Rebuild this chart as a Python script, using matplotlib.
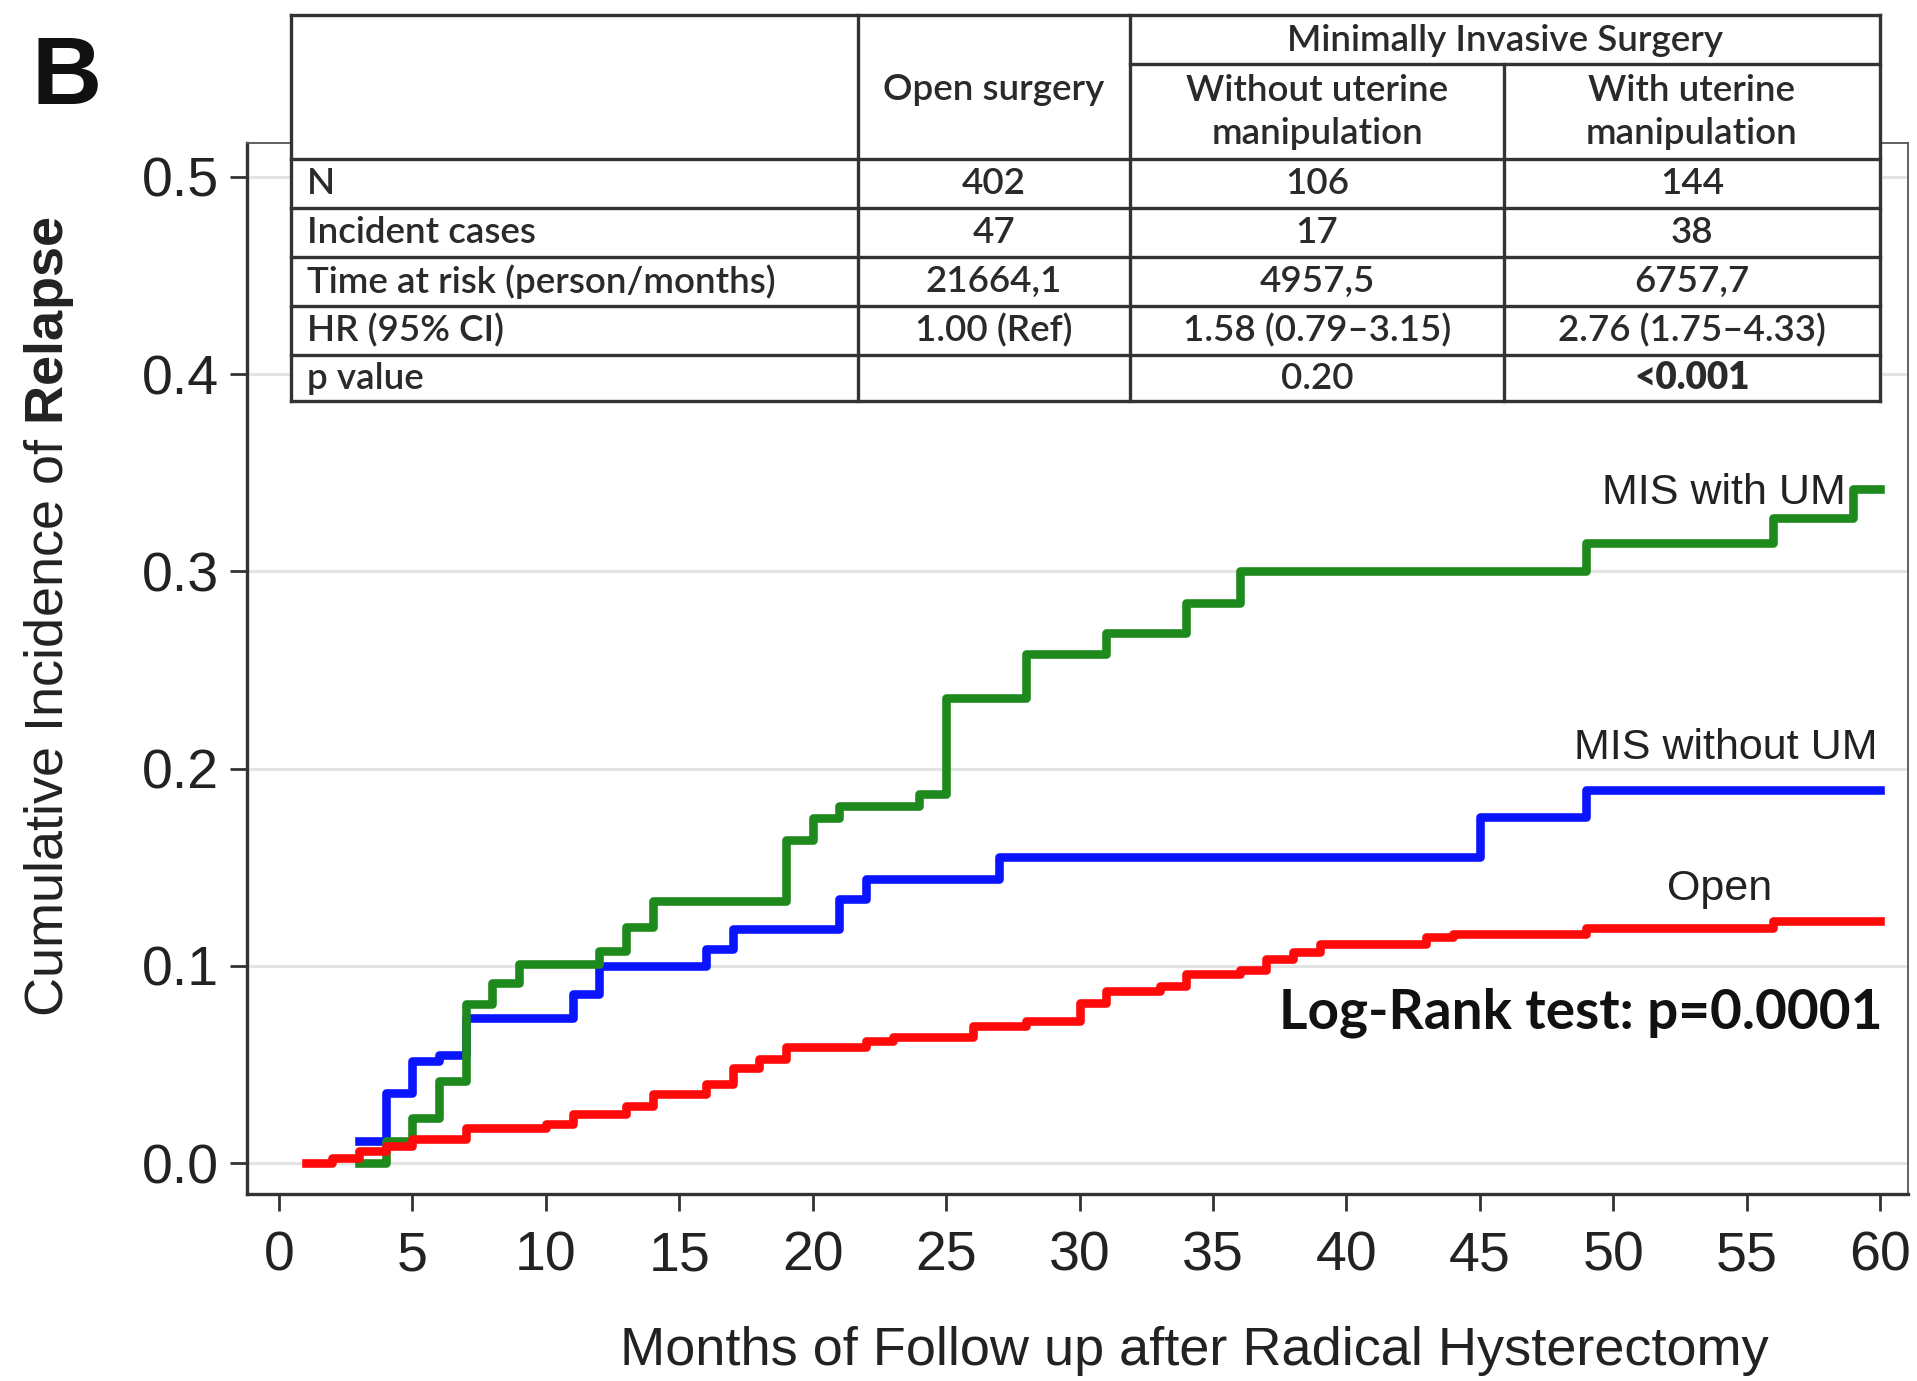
import matplotlib
matplotlib.use('Agg')
import matplotlib.pyplot as plt
from matplotlib.patches import Rectangle

plt.rcParams['font.family'] = ['Liberation Sans', 'DejaVu Sans']
plt.rcParams['mathtext.fontset'] = 'custom'
plt.rcParams['mathtext.rm'] = 'Liberation Sans'
plt.rcParams['mathtext.bf'] = 'Liberation Sans:bold'

# cumulative incidence step curves (month, value)
open_t = [1, 2, 3, 4, 5, 7, 10, 11, 13, 14, 16, 17, 18, 19, 22, 23, 26, 28, 30, 31,
          33, 34, 36, 37, 38, 39, 43, 44, 49, 56, 60]
open_y = [0.0, 0.0025, 0.006, 0.0085, 0.012, 0.018, 0.02, 0.025, 0.029, 0.035, 0.04,
          0.048, 0.053, 0.059, 0.062, 0.064, 0.0695, 0.072, 0.081, 0.087, 0.09, 0.0958,
          0.098, 0.1035, 0.107, 0.111, 0.1145, 0.1163, 0.119, 0.1226, 0.1226]

mis_no_um_t = [3, 4, 5, 6, 7, 11, 12, 16, 17, 21, 22, 27, 45, 49, 60]
mis_no_um_y = [0.011, 0.0356, 0.0517, 0.055, 0.0737, 0.0856, 0.1, 0.1085, 0.1186,
               0.134, 0.144, 0.155, 0.1755, 0.189, 0.189]

mis_um_t = [3, 4, 5, 6, 7, 8, 9, 12, 13, 14, 19, 20, 21, 24, 25, 28, 31, 34, 36, 49,
            56, 59, 60]
mis_um_y = [0.0, 0.011, 0.023, 0.0415, 0.0805, 0.0915, 0.1008, 0.1076, 0.1195, 0.133,
            0.164, 0.175, 0.181, 0.187, 0.2356, 0.258, 0.269, 0.284, 0.30, 0.3145,
            0.327, 0.342, 0.342]

# table contents
row_labels = ['N', 'Incident cases', 'Time at risk (person/months)', 'HR (95% CI)', 'p value']
open_vals = ['402', '47', '21664,1', '1.00 (Ref)', '']
no_um_vals = ['106', '17', '4957,5', '1.58 (0.79\u20133.15)', '0.20']
um_vals = ['144', '38', '6757,7', '2.76 (1.75\u20134.33)', '<0.001']

W, H = 1917, 1381
fig = plt.figure(figsize=(W / 100, H / 100), dpi=100)

ax = fig.add_axes([247 / W, 1 - 1194 / H, (1908 - 247) / W, (1194 - 143) / H])
ax.set_xlim(-1.2, 61.05)
ax.set_ylim(-0.0157, 0.5172)

lw = 6.2
ax.step(mis_no_um_t, mis_no_um_y, where='post', color='#0a14ff', lw=lw, zorder=3)
ax.step(mis_um_t, mis_um_y, where='post', color='#1e8a1e', lw=lw, zorder=4)
ax.step(open_t, open_y, where='post', color='#ff0a0a', lw=lw, zorder=5)

ax.set_xticks(range(0, 61, 5))
ax.set_yticks([0.0, 0.1, 0.2, 0.3, 0.4, 0.5])
ax.set_yticklabels(['0.0', '0.1', '0.2', '0.3', '0.4', '0.5'])
ax.yaxis.grid(True, color='#e4e4e4', lw=2.2, zorder=0)
ax.set_axisbelow(True)
ax.tick_params(axis='both', labelsize=40, length=12, width=2, color='#333333',
               labelcolor='#222222')
ax.tick_params(axis='x', pad=14)
ax.tick_params(axis='y', pad=8)
for s in ['left', 'bottom']:
    ax.spines[s].set_linewidth(2.4)
    ax.spines[s].set_color('#333333')
for s in ['top', 'right']:
    ax.spines[s].set_linewidth(1.3)
    ax.spines[s].set_color('#555555')

ax.text(58.7, 0.3397, 'MIS with UM', fontsize=31, ha='right', va='center', color='#222222')
ax.text(59.9, 0.2104, 'MIS without UM', fontsize=31, ha='right', va='center', color='#222222')
ax.text(54.0, 0.139, 'Open', fontsize=31, ha='center', va='center', color='#222222')
ax.text(60.1, 0.076, 'Log-Rank test: p=0.0001', fontsize=39.5, fontweight='bold',
        family=['Lato', 'DejaVu Sans'], ha='right', va='center', color='#111111')

fig.text(1194 / W, 1 - 1351 / H, 'Months of Follow up after Radical Hysterectomy',
         fontsize=39, ha='center', va='center', color='#222222')
fig.text(49 / W, 1 - 617 / H, r'Cumulative Incidence of $\bf{Relapse}$',
         fontsize=39, rotation=90, ha='center', va='center', color='#222222')
fig.text(31 / W, 1 - 104 / H, 'B', fontsize=70, fontweight='bold', ha='left',
         va='baseline', color='#111111')

# table overlay in pixel coordinates
tab = fig.add_axes([0, 0, 1, 1], zorder=10)
tab.set_xlim(0, W)
tab.set_ylim(H, 0)
tab.axis('off')

col_x = [291, 858, 1130, 1504, 1880]
row_y = [15, 159, 208, 257, 306, 355, 401]
mis_y = 64
lc = '#333333'
tlw = 2.4
tfont = ['Lato', 'DejaVu Sans']
tfs = 26.5
tw = 'semibold'

tab.add_patch(Rectangle((col_x[0], row_y[0]), col_x[-1] - col_x[0], row_y[-1] - row_y[0],
                        facecolor='white', edgecolor='none'))
for y in row_y:
    tab.plot([col_x[0], col_x[-1]], [y, y], color=lc, lw=tlw)
tab.plot([col_x[2], col_x[-1]], [mis_y, mis_y], color=lc, lw=tlw)
for i, x in enumerate(col_x):
    top = mis_y if i == 3 else row_y[0]
    tab.plot([x, x], [top, row_y[-1]], color=lc, lw=tlw)

tc = '#2a2a2a'
tab.text((col_x[1] + col_x[2]) / 2, 89, 'Open surgery', fontsize=tfs, family=tfont,
         fontweight=tw, ha='center', va='center', color=tc)
tab.text((col_x[2] + col_x[4]) / 2, 40, 'Minimally Invasive Surgery', fontsize=tfs,
         family=tfont, fontweight=tw, ha='center', va='center', color=tc)
tab.text((col_x[2] + col_x[3]) / 2, 112, 'Without uterine\nmanipulation', fontsize=tfs,
         family=tfont, fontweight=tw, ha='center', va='center', color=tc, linespacing=1.35)
tab.text((col_x[3] + col_x[4]) / 2, 112, 'With uterine\nmanipulation', fontsize=tfs,
         family=tfont, fontweight=tw, ha='center', va='center', color=tc, linespacing=1.35)

for i, lab in enumerate(row_labels):
    yc = (row_y[i + 1] + row_y[i + 2]) / 2
    tab.text(col_x[0] + 16, yc, lab, fontsize=tfs, family=tfont, fontweight=tw,
             ha='left', va='center', color=tc)
    for j, vals in enumerate([open_vals, no_um_vals, um_vals]):
        bold = vals[i].startswith('<')
        tab.text((col_x[j + 1] + col_x[j + 2]) / 2, yc, vals[i], fontsize=tfs,
                 family=tfont, ha='center', va='center', color=tc,
                 fontweight='heavy' if bold else tw)

fig.savefig('out.png', dpi=100, facecolor='white')
